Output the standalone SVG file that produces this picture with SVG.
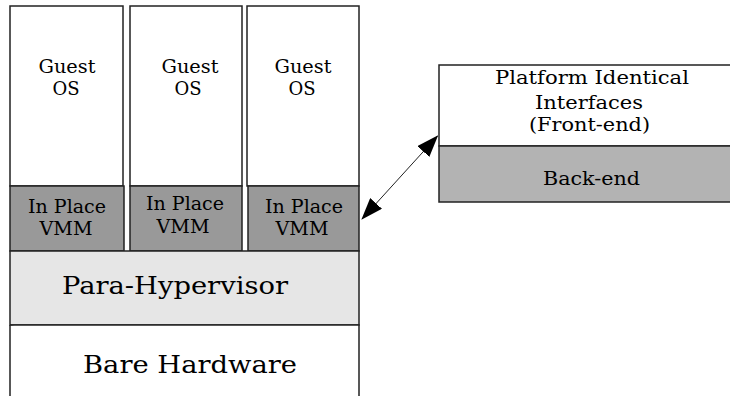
<svg xmlns="http://www.w3.org/2000/svg" width="730" height="396" viewBox="0 0 730 396">
<style>
.b{stroke:#222;stroke-width:1.5}
.w{fill:#fff}
.vmm{fill:#999999}
.ph{fill:#e6e6e6}
.be{fill:#b3b3b3}
text{font-family:"DejaVu Serif","Liberation Serif",serif;fill:#000;text-anchor:middle}
.s{font-size:18px}
.l{font-size:24px}
</style>
<defs>
<marker id="ah" viewBox="0 0 22 16" refX="21" refY="8" markerWidth="22" markerHeight="16" markerUnits="userSpaceOnUse" orient="auto-start-reverse">
<path d="M0,0 L22,8 L0,16 Z" fill="#000"/>
</marker>
</defs>
<rect width="730" height="396" fill="#fff"/>
<g id="guest1"><rect class="b w" x="10" y="6" width="113" height="180"/><text class="s" x="67" y="73" textLength="57" lengthAdjust="spacingAndGlyphs">Guest</text><text class="s" x="66" y="95">OS</text></g>
<g id="guest2"><rect class="b w" x="130" y="6" width="112" height="180"/><text class="s" x="190" y="73" textLength="57" lengthAdjust="spacingAndGlyphs">Guest</text><text class="s" x="188" y="95">OS</text></g>
<g id="guest3"><rect class="b w" x="247" y="6" width="112" height="180"/><text class="s" x="303" y="73" textLength="57" lengthAdjust="spacingAndGlyphs">Guest</text><text class="s" x="302" y="95">OS</text></g>
<g id="vmm1"><rect class="b vmm" x="10" y="186" width="114" height="65"/><text class="s" x="67" y="213" textLength="78" lengthAdjust="spacingAndGlyphs">In Place</text><text class="s" x="66" y="235" textLength="53" lengthAdjust="spacingAndGlyphs">VMM</text></g>
<g id="vmm2"><rect class="b vmm" x="130" y="186" width="112" height="65"/><text class="s" x="185" y="210" textLength="78" lengthAdjust="spacingAndGlyphs">In Place</text><text class="s" x="183" y="233" textLength="53" lengthAdjust="spacingAndGlyphs">VMM</text></g>
<g id="vmm3"><rect class="b vmm" x="248" y="186" width="111" height="65"/><text class="s" x="304" y="213" textLength="78" lengthAdjust="spacingAndGlyphs">In Place</text><text class="s" x="302" y="235" textLength="53" lengthAdjust="spacingAndGlyphs">VMM</text></g>
<g id="parahypervisor"><rect class="b ph" x="10" y="251" width="349" height="74"/><text class="l" x="175" y="294" textLength="226" lengthAdjust="spacingAndGlyphs">Para-Hypervisor</text></g>
<g id="hardware"><path class="b w" d="M10,325 H359 V400 M10,325 V400"/><text class="l" x="190" y="373" textLength="214" lengthAdjust="spacingAndGlyphs">Bare Hardware</text></g>
<g id="frontend"><rect class="b w" x="439" y="65" width="300" height="81"/><text class="s" x="592" y="84" textLength="194" lengthAdjust="spacingAndGlyphs">Platform Identical</text><text class="s" x="589" y="109" textLength="108" lengthAdjust="spacingAndGlyphs">Interfaces</text><text class="s" x="589.5" y="131" textLength="121" lengthAdjust="spacingAndGlyphs">(Front-end)</text></g>
<g id="backend"><rect class="b be" x="439" y="146" width="300" height="56"/><text class="s" x="591.5" y="185" textLength="97" lengthAdjust="spacingAndGlyphs">Back-end</text></g>
<g id="connectors"><line x1="362" y1="219" x2="437.5" y2="136" stroke="#222" stroke-width="1" marker-start="url(#ah)" marker-end="url(#ah)"/></g>
</svg>
